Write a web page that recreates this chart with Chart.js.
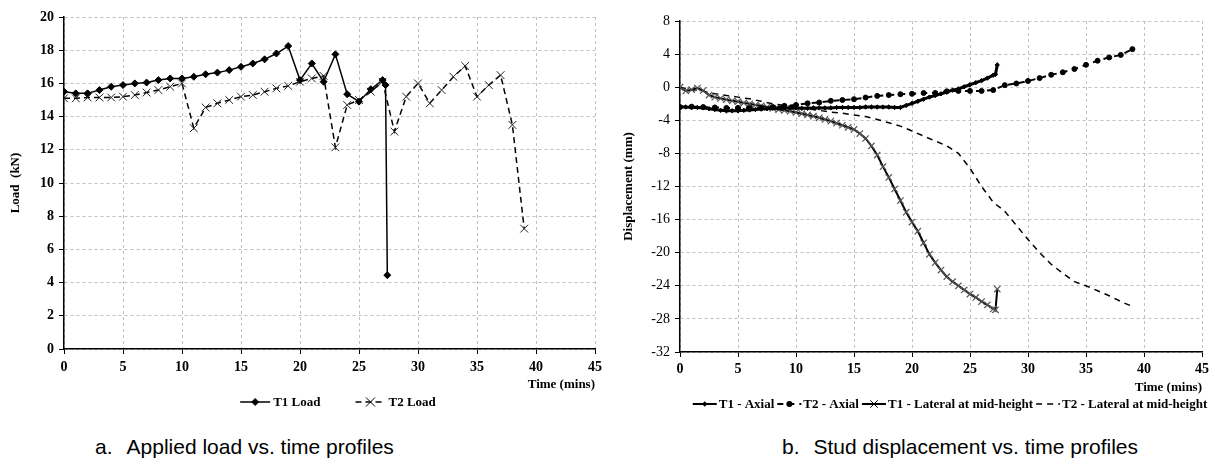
<!DOCTYPE html>
<html>
<head>
<meta charset="utf-8">
<title>Load and displacement vs. time</title>
<script src="https://cdn.jsdelivr.net/npm/chart.js@4.4.1/dist/chart.umd.min.js"></script>
<style>
  html, body { margin: 0; padding: 0; background: #fff; }
  body { width: 1215px; height: 475px; position: relative; overflow: hidden; }
  canvas { position: absolute; top: 0; }
  #graficoCarga { left: 0; }
  #graficoDesloc { left: 610px; }
  .legenda-fig {
    position: absolute; top: 435px;
    font-family: "Liberation Sans", Arial, sans-serif; font-size: 21px; color: #000;
    white-space: nowrap;
  }
  .legenda-fig span { margin-left: 14px; }
  .preload { position: absolute; left: -999px; top: 0; font-family: "Liberation Serif"; }
</style>
</head>
<body>

<span class="preload">a</span><span class="preload" style="font-weight:bold">b</span>

<canvas id="graficoCarga" width="610" height="420"></canvas>
<canvas id="graficoDesloc" width="605" height="420"></canvas>

<div class="legenda-fig" style="left:95px">a.<span>Applied load vs. time profiles</span></div>
<div class="legenda-fig" style="left:782px">b.<span>Stud displacement vs. time profiles</span></div>

<script>
/* ================= DADOS - CARGA ================= */
const t1LoadTime = [0,1,2,3,4,5,6,7,8,9,10,11,12,13,14,15,16,17,18,19,20,21,22,23,24,25,26,27,27.25,27.4];
const t1Load = [15.5,15.4,15.4,15.6,15.8,15.9,16.0,16.05,16.2,16.3,16.3,16.4,16.55,16.65,16.8,17.0,17.2,17.45,17.8,18.25,
                16.2,17.2,16.1,17.75,15.35,14.9,15.65,16.2,15.9,4.45];

const t2LoadTime = [0,1,2,3,4,5,6,7,8,9,10,11,12,13,14,15,16,17,18,19,20,21,22,23,24,25,26,27,28,29,30,31,32,33,34,35,36,37,38,39];
const t2Load = [15.1,15.1,15.15,15.15,15.15,15.2,15.3,15.45,15.6,15.8,16.0,13.3,14.55,14.8,15.0,15.2,15.3,15.5,15.7,15.85,
                16.1,16.3,16.45,12.15,14.7,15.0,15.5,16.1,13.1,15.2,16.0,14.8,15.6,16.4,17.05,15.2,15.9,16.5,13.5,7.25];

/* ================= DADOS - DESLOCAMENTO ================= */
const t1DispTime = [0,0.5,1,1.5,2,2.5,3,3.5,4,4.5,5,5.5,6,6.5,7,7.5,8,8.5,9,9.5,10,10.5,11,11.5,12,12.5,13,13.5,14,14.5,
                    15,15.5,16,16.5,17,17.5,18,18.5,19,19.5,20,20.5,21,21.5,22,22.5,23,23.5,24,24.5,25,25.5,26,26.5,27,27.2,27.35];
const t1Axial = [-2.4,-2.4,-2.45,-2.45,-2.5,-2.6,-2.7,-2.8,-2.85,-2.85,-2.85,-2.8,-2.75,-2.7,-2.65,-2.6,-2.55,-2.5,-2.5,-2.5,
                 -2.5,-2.55,-2.55,-2.5,-2.5,-2.5,-2.5,-2.45,-2.45,-2.45,-2.45,-2.45,-2.4,-2.4,-2.4,-2.4,-2.4,-2.45,-2.45,-2.2,
                 -1.95,-1.7,-1.45,-1.2,-1.0,-0.8,-0.6,-0.35,-0.2,0.05,0.3,0.55,0.8,1.1,1.45,1.55,2.7];
const t1Lateral = [0,-0.45,-0.3,-0.1,-0.4,-0.95,-1.2,-1.35,-1.5,-1.65,-1.75,-1.9,-2.0,-2.15,-2.25,-2.4,-2.55,-2.7,-2.8,-2.9,
                   -3.05,-3.2,-3.35,-3.5,-3.7,-3.9,-4.1,-4.35,-4.6,-4.85,-5.1,-5.6,-6.2,-7.1,-8.2,-9.6,-10.9,-12.3,-13.7,-15.1,
                   -16.3,-17.4,-18.8,-20.2,-21.2,-22.1,-22.9,-23.5,-24.0,-24.5,-25.0,-25.4,-25.9,-26.3,-26.8,-26.9,-24.4];

const t2DispTime = [0,1,2,3,4,5,6,7,8,9,10,11,12,13,14,15,16,17,18,19,20,21,22,23,24,25,26,27,28,29,30,31,32,33,34,35,36,37,38,39];
const t2Axial = [-2.4,-2.35,-2.4,-2.45,-2.5,-2.5,-2.5,-2.5,-2.4,-2.25,-2.15,-1.95,-1.85,-1.65,-1.55,-1.45,-1.25,-1.05,-0.95,-0.85,
                 -0.8,-0.7,-0.7,-0.5,-0.45,-0.45,-0.45,-0.35,0.25,0.45,0.75,1.1,1.5,1.8,2.2,2.7,3.2,3.6,3.9,4.6];
const t2Lateral = [0,-0.3,-0.5,-0.8,-1.0,-1.2,-1.4,-1.7,-2.0,-2.2,-2.4,-2.6,-2.8,-3.0,-3.15,-3.35,-3.55,-3.9,-4.3,-4.7,
                   -5.3,-5.9,-6.5,-7.1,-8.0,-9.8,-12.0,-13.9,-15.0,-16.7,-18.4,-20.0,-21.4,-22.5,-23.5,-24.0,-24.6,-25.2,-25.9,-26.5];

/* ================= HELPERS ================= */
const SERIF = "'Liberation Serif'";
const pares = (xs, ys) => xs.map((x, i) => ({ x, y: ys[i] }));

function desenharMarcador(ctx, estilo, x, y, r, cor) {
  ctx.save();
  ctx.setLineDash([]);
  ctx.strokeStyle = cor;
  ctx.fillStyle = cor;
  ctx.lineWidth = 1;
  ctx.beginPath();
  if (estilo === "rectRot") {
    ctx.moveTo(x, y - r); ctx.lineTo(x + r, y); ctx.lineTo(x, y + r); ctx.lineTo(x - r, y); ctx.closePath();
    ctx.fill();
  } else if (estilo === "circle") {
    ctx.arc(x, y, r, 0, Math.PI * 2);
    ctx.fill();
  } else if (estilo === "crossRot") {
    const d = r * 0.75;
    ctx.moveTo(x - d, y - d); ctx.lineTo(x + d, y + d);
    ctx.moveTo(x + d, y - d); ctx.lineTo(x - d, y + d);
    ctx.stroke();
  }
  ctx.restore();
}

/* legenda no estilo do Excel: segmento de linha com marcador no meio */
const legendaExcel = {
  id: "legendaExcel",
  afterDraw(chart, args, opts) {
    const ctx = chart.ctx;
    ctx.save();
    ctx.font = opts.font;
    ctx.textBaseline = "middle";
    ctx.fillStyle = "#000";
    const itens = chart.data.datasets.map(ds => ({
      ds, largura: opts.simbolo + opts.gapTexto + ctx.measureText(ds.label).width
    }));
    const total = itens.reduce((s, it) => s + it.largura, 0) + opts.gapItem * (itens.length - 1);
    let x = opts.centroX - total / 2;
    const y = opts.y;
    itens.forEach(({ ds, largura }) => {
      ctx.save();
      ctx.strokeStyle = ds.borderColor;
      ctx.lineWidth = Math.min(ds.borderWidth, 2);
      ctx.setLineDash(ds.borderDash || []);
      ctx.beginPath();
      ctx.moveTo(x, y);
      ctx.lineTo(x + opts.simbolo, y);
      ctx.stroke();
      ctx.restore();
      if (ds.pointRadius > 0) {
        desenharMarcador(ctx, ds.pointStyle, x + opts.simbolo / 2, y, ds.pointRadius + 0.5, "#000");
      }
      ctx.fillText(ds.label, x + opts.simbolo + opts.gapTexto, y + 1);
      x += largura + opts.gapItem;
    });
    ctx.restore();
  }
};

function eixoX(padTicks, altura) {
  return {
    type: "linear", min: 0, max: 45,
    afterFit: s => { s.height = altura; },
    ticks: { stepSize: 5, color: "#000", padding: padTicks,
             font: { family: SERIF, size: 14, weight: "bold" } },
    grid: { color: "#c0c0c0", lineWidth: 1, tickColor: "#000", tickLength: 5, tickWidth: 1, tickBorderDash: [] },
    border: { color: "#000", width: 1.5, dash: [3, 3] },
    title: { display: true, text: "Time (mins)", align: "end", color: "#000",
             padding: { top: 0, bottom: 0 }, font: { family: SERIF, size: 13, weight: "bold" } }
  };
}

function eixoY(min, max, passo, largura, negrito, titulo, padTitulo) {
  return {
    type: "linear", min, max,
    afterFit: s => { s.width = largura; },
    ticks: { stepSize: passo, color: "#000", padding: 5,
             font: { family: SERIF, size: 14, weight: negrito ? "bold" : "normal" } },
    grid: { color: "#c0c0c0", lineWidth: 1, tickColor: "#000", tickLength: 5, tickWidth: 1, tickBorderDash: [] },
    border: { color: "#000", width: 1.5, dash: [3, 3] },
    title: { display: true, text: titulo, color: "#000",
             padding: { top: padTitulo, bottom: 0 }, font: { family: SERIF, size: 13, weight: "bold" } }
  };
}

Chart.defaults.devicePixelRatio = 1;

function desenhar() {
  /* ================= GRÁFICO A - CARGA ================= */
  new Chart(document.getElementById("graficoCarga"), {
    type: "scatter",
    data: {
      datasets: [
        { label: "T1 Load", data: pares(t1LoadTime, t1Load), showLine: true, tension: 0,
          borderColor: "#000", borderWidth: 1.5, pointStyle: "rectRot", pointRadius: 3.5,
          pointBackgroundColor: "#000", pointBorderColor: "#000", pointBorderWidth: 1 },
        { label: "T2 Load", data: pares(t2LoadTime, t2Load), showLine: true, tension: 0,
          borderColor: "#000", borderWidth: 1.5, borderDash: [6, 4], pointStyle: "crossRot", pointRadius: 5.5,
          pointBackgroundColor: "#000", pointBorderColor: "#222", pointBorderWidth: 1 }
      ]
    },
    options: {
      responsive: false, animation: false,
      layout: { padding: { left: 0, top: 17, right: 15, bottom: 28 } },
      scales: {
        x: eixoX(5, 43),
        y: eixoY(0, 20, 2, 64, true, "Load  (kN)", 8)
      },
      plugins: {
        legend: { display: false },
        tooltip: { enabled: false },
        legendaExcel: { font: "bold 13px " + SERIF, simbolo: 30, gapTexto: 3, gapItem: 35, centroX: 338, y: 402 }
      }
    },
    plugins: [legendaExcel]
  });

  /* ================= GRÁFICO B - DESLOCAMENTO ================= */
  new Chart(document.getElementById("graficoDesloc"), {
    type: "scatter",
    data: {
      datasets: [
        { label: "T1 - Axial", data: pares(t1DispTime, t1Axial), showLine: true, tension: 0,
          borderColor: "#000", borderWidth: 3, pointStyle: "rectRot", pointRadius: 2.2,
          pointBackgroundColor: "#000", pointBorderColor: "#000", pointBorderWidth: 1 },
        { label: "T2 - Axial", data: pares(t2DispTime, t2Axial), showLine: true, tension: 0,
          borderColor: "#000", borderWidth: 2, borderDash: [6, 5], pointStyle: "circle", pointRadius: 2.5,
          pointBackgroundColor: "#000", pointBorderColor: "#000", pointBorderWidth: 1 },
        { label: "T1 - Lateral at mid-height", data: pares(t1DispTime, t1Lateral), showLine: true, tension: 0,
          borderColor: "#000", borderWidth: 2, pointStyle: "crossRot", pointRadius: 4.5,
          pointBackgroundColor: "#555", pointBorderColor: "#555", pointBorderWidth: 1.2 },
        { label: "T2 - Lateral at mid-height", data: pares(t2DispTime, t2Lateral), showLine: true, tension: 0,
          borderColor: "#000", borderWidth: 1.5, borderDash: [6, 5], pointRadius: 0 }
      ]
    },
    options: {
      responsive: false, animation: false,
      layout: { padding: { left: 0, top: 21, right: 13, bottom: 25 } },
      scales: {
        x: eixoX(4, 43),
        y: eixoY(-32, 8, 4, 70, false, "Displacement (mm)", 11)
      },
      plugins: {
        legend: { display: false },
        tooltip: { enabled: false },
        legendaExcel: { font: "bold 13px " + SERIF, simbolo: 24, gapTexto: 2, gapItem: 3, centroX: 340, y: 404 }
      }
    },
    plugins: [legendaExcel]
  });
}

/* ================= INIT ================= */
Promise.all([
  document.fonts.load("13px 'Liberation Serif'"),
  document.fonts.load("bold 13px 'Liberation Serif'")
]).then(desenhar, desenhar);
</script>
</body>
</html>
